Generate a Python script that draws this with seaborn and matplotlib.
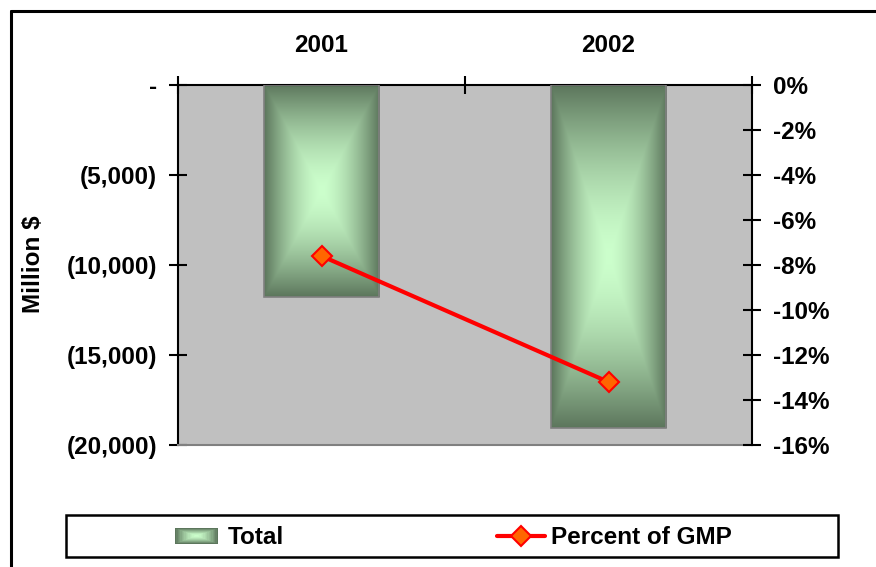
import numpy as np
import pandas as pd
import matplotlib
matplotlib.use("Agg")
import matplotlib.pyplot as plt
from matplotlib.patches import Rectangle
from matplotlib.lines import Line2D
from matplotlib.legend_handler import HandlerBase
from matplotlib.colors import to_rgb
from matplotlib.ticker import FuncFormatter
import seaborn as sns

# Data
years = ["2001", "2002"]
total_musd = [-11800, -19050]
pct_gmp = [-0.076, -0.132]

left_ticks = [0, -5000, -10000, -15000, -20000]
right_ticks = [0, -0.02, -0.04, -0.06, -0.08, -0.10, -0.12, -0.14, -0.16]

sns.set_style("ticks")
plt.rcParams["font.family"] = ["Liberation Sans", "DejaVu Sans"]
plt.rcParams["font.weight"] = "bold"
for key in ("text.color", "axes.labelcolor", "xtick.color", "ytick.color"):
    plt.rcParams[key] = "black"
FS = 17.5

GRAD_CENTER = np.array(to_rgb("#CCFFCC"))
GRAD_EDGE = np.array(to_rgb("#5C765C"))
GAMMA = 1.6


def grad_color(t):
    return GRAD_CENTER + (GRAD_EDGE - GRAD_CENTER) * (t ** GAMMA)


def box_gradient(nx, ny):
    x = np.linspace(-1, 1, nx)
    y = np.linspace(-1, 1, ny)
    X, Y = np.meshgrid(x, y)
    t = np.maximum(np.abs(X), np.abs(Y))
    return grad_color(t[..., None])


class GradientBoxHandler(HandlerBase):
    def create_artists(self, legend, orig_handle, xdescent, ydescent,
                       width, height, fontsize, trans):
        arts = []
        n = 16
        for i in range(n):
            f = i / n
            w = width * (1 - f)
            h = height * (1 - f)
            x = -xdescent + (width - w) / 2
            y = -ydescent + (height - h) / 2
            arts.append(Rectangle((x, y), w, h, facecolor=grad_color(1 - f),
                                  edgecolor="none", transform=trans))
        return arts


df = pd.DataFrame({"year": years, "total": total_musd, "pct": pct_gmp})

fig = plt.figure(figsize=(8.76, 5.67), dpi=100)
ax = fig.add_axes([178 / 876, 1 - 445 / 567, 574 / 876, 360 / 567])
ax.set_facecolor("#C0C0C0")

sns.barplot(data=df, x="year", y="total", ax=ax, width=0.404,
            color="#5E785E", saturation=1, edgecolor="#808080", linewidth=1.2)

# Fill each bar with a centre-out box gradient
for p in ax.patches:
    x0, y0, w, h = p.get_x(), p.get_y(), p.get_width(), p.get_height()
    ax.imshow(box_gradient(120, 300), extent=[x0, x0 + w, y0 + h, y0],
              aspect="auto", interpolation="bilinear", zorder=2)
    p.set_facecolor("none")
    p.set_zorder(3)

ax2 = ax.twinx()
sns.pointplot(data=df, x="year", y="pct", ax=ax2, color="red",
              markers="D", linestyles="-", errorbar=None,
              markersize=10.5, markerfacecolor="#FF6600",
              markeredgecolor="red", markeredgewidth=1.5, linewidth=3)

# Axis limits and ticks
ax.set_xlim(-0.5, 1.5)
ax.set_ylim(-20000, 0)
ax2.set_ylim(-0.16, 0)
ax.set_xlabel("")
ax.set_ylabel("")
ax2.set_xlabel("")
ax2.set_ylabel("")

ax.xaxis.tick_top()
ax.set_xticks([-0.5, 0.5, 1.5])
ax.set_xticklabels([])
ax.set_xticks([0, 1], labels=years, minor=True)
ax.tick_params(axis="x", which="major", direction="inout", length=13,
               width=1.5, top=True, bottom=False, labeltop=False,
               labelbottom=False)
ax.tick_params(axis="x", which="minor", length=0, pad=20, top=True,
               bottom=False, labeltop=True, labelbottom=False, labelsize=FS)

ax.set_yticks(left_ticks)
ax.yaxis.set_major_formatter(FuncFormatter(
    lambda v, _: "-" if v == 0 else f"({abs(v):,.0f})"))
ax.tick_params(axis="y", direction="inout", length=13, width=1.5, pad=8.5,
               labelsize=FS)

ax2.set_yticks(right_ticks)
ax2.yaxis.set_major_formatter(FuncFormatter(
    lambda v, _: f"{round(v * 100):d}%" if round(v * 100) != 0 else "0%"))
ax2.tick_params(axis="y", direction="inout", length=13, width=1.5, pad=8.5,
                labelsize=FS)

for s in ("top", "left"):
    ax.spines[s].set_color("black")
    ax.spines[s].set_linewidth(1.5)
ax.spines["bottom"].set_color("#808080")
ax.spines["bottom"].set_linewidth(1.5)
ax.spines["right"].set_visible(False)
for s in ("top", "left", "bottom"):
    ax2.spines[s].set_visible(False)
ax2.spines["right"].set_color("black")
ax2.spines["right"].set_linewidth(1.5)
ax.grid(False)
ax2.grid(False)

fig.text(33 / 876, 1 - 264 / 567, "Million $", rotation=90, ha="center",
         va="center", fontsize=FS, fontweight="bold")

# Outer chart border
fig.add_artist(Line2D([10.5 / 876, 10.5 / 876], [0, 1 - 10.5 / 567],
                      transform=fig.transFigure, color="black", lw=2.2))
fig.add_artist(Line2D([10.5 / 876, 1], [1 - 10.5 / 567, 1 - 10.5 / 567],
                      transform=fig.transFigure, color="black", lw=2.2))

# Legend frame and entries
fig.add_artist(Rectangle((66 / 876, 1 - 557 / 567), 772 / 876, 42 / 567,
                         transform=fig.transFigure, fill=False,
                         edgecolor="black", lw=1.8))

bar_handle = Rectangle((0, 0), 1, 1)
fig.legend(handles=[bar_handle], labels=["Total"],
           handler_map={bar_handle: GradientBoxHandler()},
           loc="center left", bbox_to_anchor=(175 / 876, 1 - 538 / 567),
           frameon=False, borderpad=0, borderaxespad=0,
           handlelength=43 / 24.3, handleheight=15 / 24.3, handletextpad=0.4,
           prop=dict(size=FS, weight="bold"))

line_handle = Line2D([], [], color="red", lw=3, marker="D", ms=10.5,
                     mfc="#FF6600", mec="red", mew=1.5)
fig.legend(handles=[line_handle], labels=["Percent of GMP"],
           loc="center left", bbox_to_anchor=(497 / 876, 1 - 538 / 567),
           frameon=False, borderpad=0, borderaxespad=0,
           handlelength=48 / 24.3, handletextpad=0.25,
           prop=dict(size=FS, weight="bold"))

fig.savefig("out.png", dpi=100, facecolor="white")
